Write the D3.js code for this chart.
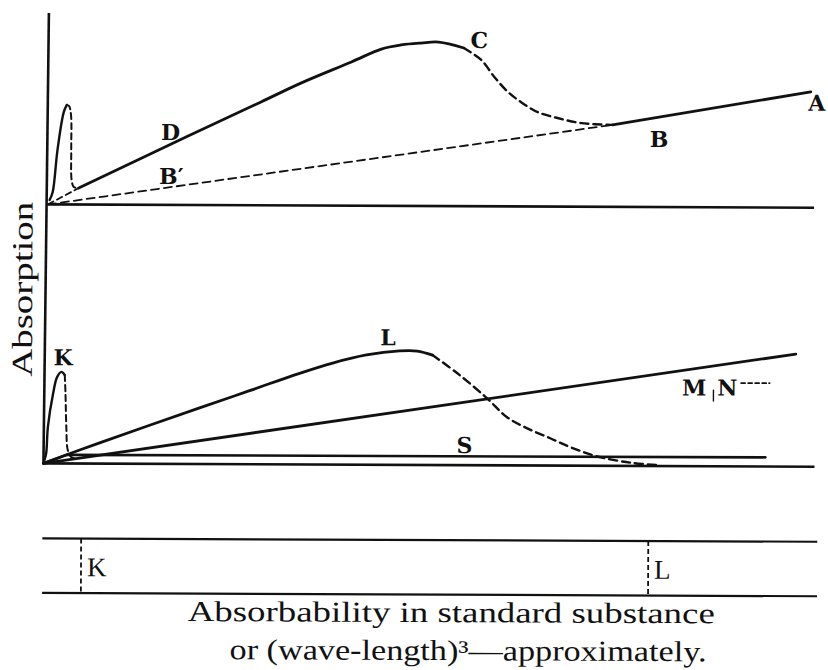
<!DOCTYPE html>
<html>
<head>
<meta charset="utf-8">
<script src="https://cdn.jsdelivr.net/npm/d3@7"></script>
<style>
body { margin: 0; background: #fff; }
text { fill: #111; }
.lbl { font-family: "DejaVu Serif", "Liberation Serif", "Times New Roman", "Noto Serif", Georgia, serif; font-weight: bold; font-size: 22px; }
.edge { font-family: "Liberation Serif", "DejaVu Serif", "Times New Roman", "Noto Serif", serif; font-size: 27px; }
.cap { font-family: "Liberation Serif", "DejaVu Serif", "Times New Roman", "Noto Serif", serif; font-size: 29px; }
</style>
</head>
<body>
<script>
// diagram units: x 0..100 along the baseline, y 0..100 up from each panel's baseline

// upper panel
var topSpike     = [[0.2,2.2],[0.6,6.2],[1.2,27.2],[2.0,46.2],[2.4,49.8]];
var topSpikeDash = [[2.4,49.8],[2.7,49.2],[2.95,44.8],[3.0,27],[3.07,12.2],[3.35,8.8],[4.0,8.3]];
var topFootDash  = [[0,0],[4.0,8.3]];
var curveD = [[4.0,8.3],[18.0,34.0],[27.8,51.7],[33.0,61.2],[39.6,71.9],[43.5,78.4],
              [46.1,80.5],[48.7,81.5],[51.0,82.0],[54.3,79.1]];
var curveC = [[54.3,79.1],[56.6,73.1],[58.3,64.7],[60.1,57.2],[61.8,52.2],[64.0,47.2],
              [66.6,44.3],[69.7,41.8],[73.8,41.0]];
var lineBA = [[73.8,41.0],[99.7,57.9]];
var lineOB = [[0,0],[73.8,41.0]];
var topLabels = [["D",16.0,36.4],["C",56.3,83.1],["A",100.5,52.4],["B",79.9,34.0],["B\u2032",16.1,14.4]];

// lower panel
var botSpike     = [[0.13,1.7],[0.35,5.0],[0.56,18.3],[1.22,35.0],[1.74,43.3],[2.3,45.8],[2.73,44.2]];
var botSpikeDash = [[2.73,44.2],[2.83,35.2],[2.96,18.3],[3.16,6.7],[3.6,3.3],[4.43,2.2]];
var curveL = [[0,0],[7.3,10.4],[20.3,28.1],[26.8,36.8],[33.3,45.6],[37.6,50.8],[42.0,54.9],
              [46.3,57.0],[48.6,57.0],[50.6,55.0]];
var curveLDash = [[50.6,55.0],[53.8,46.1],[57.7,33.6],[60.3,24.2],[62.9,18.7],[65.9,13.8],
                  [68.9,8.8],[72.4,4.4],[76.7,1.5],[80.2,0.5]];
var lineMN = [[0,0],[97.9,56.3]];
var lineS  = [[0,0],[3.0,4.3],[94.0,4.6]];
var botLabels = [["K",2.5,53.0],["L",44.8,63.7],["S",54.8,10.1],["M",84.7,39.3],["N",89.0,39.4]];
var mnTick = [[87.2,38.1],[87.2,32.6]];
var mnDots = [[90.8,41.7],[94.5,41.7]];

// scale strip
var edgeNames = ["K","L"];
var edgeAt = [4.95, 78.8];

var axisTopY = 95.7;
var captions = ["Absorbability in standard substance", "or (wave-length)\u00b3\u2014approximately."];

var width = 828, height = 670;
var svg = d3.select("body").append("svg")
            .attr("width", width)
            .attr("height", height);

// the page is scanned a touch off square
var g = svg.append("g").attr("transform", "rotate(0.25,414,335)");

var xTop = d3.scaleLinear().domain([0,100]).range([47.5,812]);
var yTop = d3.scaleLinear().domain([0,100]).range([206,6]);
var xBot = d3.scaleLinear().domain([0,100]).range([44,812]);
var yBot = d3.scaleLinear().domain([0,100]).range([465,265]);

function gen(x, y, c) {
  return d3.line().x(function(d){ return x(d[0]); }).y(function(d){ return y(d[1]); }).curve(c);
}
var smooth = d3.curveCatmullRom.alpha(0.5), straight = d3.curveLinear;
var topSmooth = gen(xTop, yTop, smooth), topLine = gen(xTop, yTop, straight);
var botSmooth = gen(xBot, yBot, smooth), botLine = gen(xBot, yBot, straight);

// axis and baselines
g.append("path")
 .attr("d", "M" + xTop(0) + "," + yTop(axisTopY) + "L" + xBot(0) + "," + yBot(0))
 .attr("stroke", "#111").attr("stroke-width", 2.6).attr("fill", "none");
g.append("path")
 .attr("d", topLine([[0,0],[100.2,0]]))
 .attr("stroke", "#111").attr("stroke-width", 2.6).attr("fill", "none");
g.append("path")
 .attr("d", botLine([[0,0],[100.4,0]]))
 .attr("stroke", "#111").attr("stroke-width", 2.6).attr("fill", "none");

var series = [
  [topSmooth, topSpike, null, 2.4],
  [topSmooth, topSpikeDash, "6,4", 2],
  [topLine, topFootDash, "6,4", 1.8],
  [topSmooth, curveD, null, 2.8],
  [topSmooth, curveC, "8,5", 2.4],
  [topLine, lineBA, null, 2.8],
  [topLine, lineOB, "8,5", 1.8],
  [botSmooth, botSpike, null, 2.4],
  [botSmooth, botSpikeDash, "6,4", 2],
  [botSmooth, curveL, null, 2.8],
  [botSmooth, curveLDash, "8,5", 2.4],
  [botLine, lineMN, null, 2.8],
  [botLine, lineS, null, 2.6],
  [botLine, mnTick, null, 1.4],
  [botLine, mnDots, "4,3", 1.8]
];

g.selectAll("path.curve")
 .data(series)
 .enter()
 .append("path")
 .attr("class", "curve")
 .attr("d", function(d){ return d[0](d[1]); })
 .attr("fill", "none")
 .attr("stroke", "#111")
 .attr("stroke-width", function(d){ return d[3]; })
 .attr("stroke-dasharray", function(d){ return d[2]; })
 .attr("stroke-linecap", "round")
 .attr("stroke-linejoin", "round");

g.selectAll("text.tl")
 .data(topLabels)
 .enter()
 .append("text")
 .attr("class", "lbl tl")
 .attr("x", function(d){ return xTop(d[1]); })
 .attr("y", function(d){ return yTop(d[2]); })
 .attr("dy", "0.36em")
 .attr("text-anchor", "middle")
 .text(function(d){ return d[0]; });

g.selectAll("text.bl")
 .data(botLabels)
 .enter()
 .append("text")
 .attr("class", "lbl bl")
 .attr("x", function(d){ return xBot(d[1]); })
 .attr("y", function(d){ return yBot(d[2]); })
 .attr("dy", "0.36em")
 .attr("text-anchor", "middle")
 .text(function(d){ return d[0]; });

// scale strip with the K and L edges
var boxTop = 540, boxBottom = 594.5;
[boxTop, boxBottom].forEach(function(yy){
  g.append("line")
   .attr("x1", xBot(-0.1)).attr("x2", xBot(100.8))
   .attr("y1", yy).attr("y2", yy)
   .attr("stroke", "#111").attr("stroke-width", 2.2);
});
var edges = g.selectAll("g.edgemark")
 .data(edgeNames.map(function(n, i){ return {name: n, at: edgeAt[i]}; }))
 .enter()
 .append("g").attr("class", "edgemark");
edges.append("line")
 .attr("x1", function(d){ return xBot(d.at); })
 .attr("x2", function(d){ return xBot(d.at); })
 .attr("y1", boxTop).attr("y2", boxBottom)
 .attr("stroke", "#111").attr("stroke-width", 1.8)
 .attr("stroke-dasharray", "5,3");
edges.append("text")
 .attr("class", "edge")
 .attr("x", function(d){ return xBot(d.at) + 6; })
 .attr("y", 568.5)
 .attr("dy", "0.34em")
 .text(function(d){ return d.name; });

// titles
g.append("text")
 .attr("class", "cap")
 .attr("transform", "translate(32,291) rotate(-90)")
 .attr("text-anchor", "middle")
 .attr("textLength", 175)
 .attr("lengthAdjust", "spacingAndGlyphs")
 .text("Absorption");

g.append("text")
 .attr("class", "cap")
 .attr("x", 189).attr("y", 622)
 .attr("textLength", 527)
 .attr("lengthAdjust", "spacingAndGlyphs")
 .text(captions[0]);
g.append("text")
 .attr("class", "cap")
 .attr("x", 231).attr("y", 660)
 .attr("textLength", 477)
 .attr("lengthAdjust", "spacingAndGlyphs")
 .text(captions[1]);
</script>
</body>
</html>
